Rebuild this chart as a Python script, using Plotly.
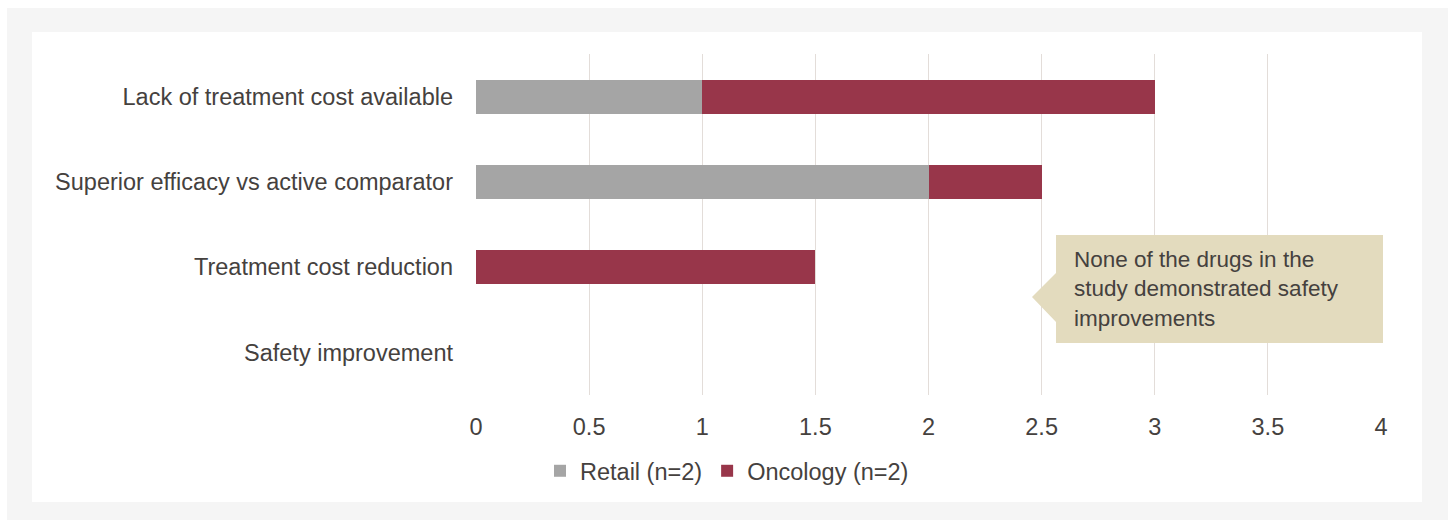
import plotly.graph_objects as go

categories = ["Lack of treatment cost available", "Superior efficacy vs active comparator",
              "Treatment cost reduction", "Safety improvement"]
retail = [1, 2, 0, 0]
oncology = [2, 0.5, 1.5, 0]
tick_vals = [0, 0.5, 1, 1.5, 2, 2.5, 3, 3.5, 4]
tick_text = ["0", "0.5", "1", "1.5", "2", "2.5", "3", "3.5", "4"]
note_text = "None of the drugs in the<br>study demonstrated safety<br>improvements"

W, H = 1453, 520
L, R, T, B = 476, 1381, 54, 395
FONT = "Liberation Sans"
FS = 23.5
TXT = "#45413e"

def px(x):
    return (x - L) / (R - L)

def py(y):
    return (B - y) / (B - T)

fig = go.Figure()
fig.add_trace(go.Bar(y=categories, x=retail, orientation="h", name="Retail (n=2)",
                     marker=dict(color="#a5a5a5", line=dict(width=0)), width=0.4))
fig.add_trace(go.Bar(y=categories, x=oncology, orientation="h", name="Oncology (n=2)",
                     marker=dict(color="#98364a", line=dict(width=0)), width=0.4))

shapes = [
    dict(type="rect", xref="paper", yref="paper", x0=px(7), x1=px(1448), y0=py(8), y1=py(521),
         fillcolor="#f5f5f5", line=dict(width=0), layer="below"),
    dict(type="rect", xref="paper", yref="paper", x0=px(32), x1=px(1422), y0=py(32), y1=py(502),
         fillcolor="#ffffff", line=dict(width=0), layer="below"),
    dict(type="path", xref="paper", yref="paper",
         path=(f"M {px(1056)} {py(235)} L {px(1383)} {py(235)} L {px(1383)} {py(343)} "
               f"L {px(1056)} {py(343)} L {px(1056)} {py(322)} L {px(1032)} {py(297)} "
               f"L {px(1056)} {py(273)} Z"),
         fillcolor="#e3dbbe", line=dict(width=0), layer="above"),
]

fig.update_layout(
    width=W, height=H,
    margin=dict(l=L, r=W - R, t=T, b=H - B, pad=0),
    paper_bgcolor="#ffffff", plot_bgcolor="rgba(0,0,0,0)",
    barmode="stack",
    font=dict(family=FONT, size=FS, color=TXT),
    xaxis=dict(range=[0, 4], tickvals=tick_vals, ticktext=tick_text, showgrid=True,
               gridcolor="#e3ddd9", gridwidth=1, zeroline=False, showline=False,
               ticks="", ticklabelstandoff=15, tickfont=dict(size=FS, color=TXT), fixedrange=True),
    yaxis=dict(categoryorder="array", categoryarray=categories, autorange="reversed",
               showgrid=False, zeroline=False, showline=False, ticks="",
               ticklabelstandoff=22, tickfont=dict(size=FS, color=TXT)),
    legend=dict(orientation="h", x=px(727), xanchor="center", y=py(471), yanchor="middle",
                font=dict(size=FS, color=TXT), bgcolor="rgba(0,0,0,0)", traceorder="normal",
                itemwidth=30),
    shapes=shapes,
    annotations=[dict(xref="paper", yref="paper", x=px(1072), y=py(289), xanchor="left",
                      yanchor="middle", text=note_text, showarrow=False, align="left",
                      font=dict(size=22.5, color=TXT, family=FONT))],
)

fig.write_html("out.html")
